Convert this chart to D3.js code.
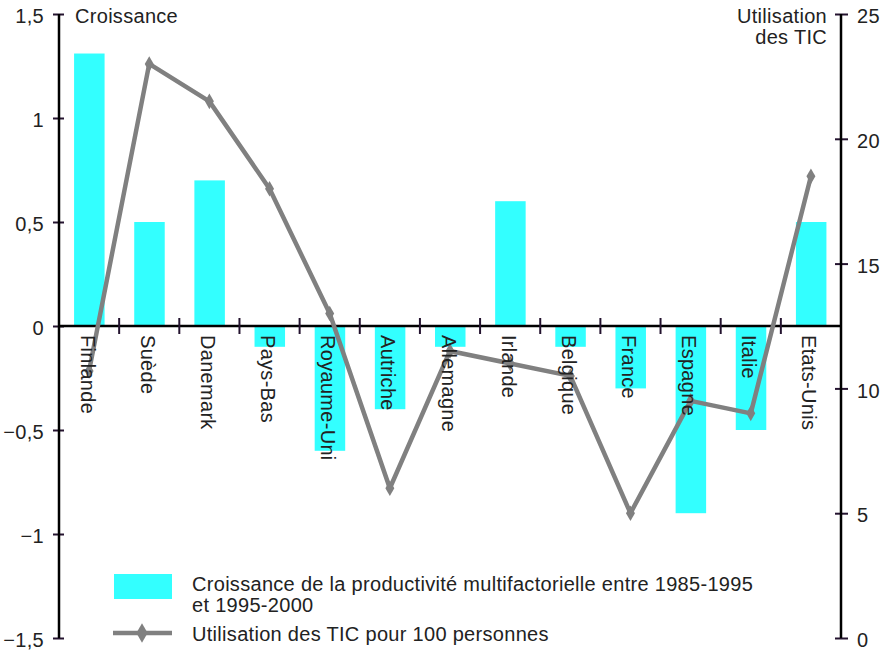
<!DOCTYPE html>
<html><head><meta charset="utf-8">
<script src="https://cdn.jsdelivr.net/npm/d3@7"></script>
<style>
html,body{margin:0;padding:0;background:#fff;}
svg{display:block;font-family:"Liberation Sans",Arial,Helvetica,sans-serif;}
svg text{letter-spacing:0.3px;}
</style></head>
<body>
<script>
const categories = ["Finlande","Suède","Danemark","Pays-Bas","Royaume-Uni","Autriche","Allemagne","Irlande","Belgique","France","Espagne","Italie","Etats-Unis"];
const croissance = [1.31,0.5,0.7,-0.1,-0.6,-0.4,-0.1,0.6,-0.1,-0.3,-0.9,-0.5,0.5];
const ticUsage = [10.7,23,21.5,18,13,6,11.5,11,10.5,5,9.5,9,18.5];
const leftTicks = [-1.5,-1,-0.5,0,0.5,1,1.5];
const rightTicks = [0,5,10,15,20,25];
const legendLabels = ["Croissance de la productivité multifactorielle entre 1985-1995","et 1995-2000","Utilisation des TIC pour 100 personnes"];

const W = 888, H = 652;
const mLeft = 59, mRight = 841, mTop = 14, mBottom = 638;
const textColor = "#222";
const tickColor = "#24132f";
const cyan = "#33ffff";
const gray = "#808080";

const svg = d3.select("body").append("svg").attr("width", W).attr("height", H);

const xb = d3.scaleBand().domain(categories).range([mLeft, mRight]);
const yL = d3.scaleLinear().domain([-1.5, 1.5]).range([mBottom, mTop]);
const yR = d3.scaleLinear().domain([0, 25]).range([mBottom, mTop]);
const cx = d => xb(d) + xb.bandwidth()/2;

const fmt = v => (v < 0 ? "\u2212" : "") + String(Math.abs(v)).replace(".", ",");

// bars
svg.append("g").selectAll("rect").data(categories).join("rect")
  .attr("x", d => cx(d) - 15)
  .attr("width", 30.5)
  .attr("y", (d,i) => yL(Math.max(0, croissance[i])))
  .attr("height", (d,i) => Math.abs(yL(croissance[i]) - yL(0)))
  .attr("fill", cyan);

// left axis
const gL = svg.append("g").attr("transform", `translate(${mLeft},0)`);
gL.call(d3.axisLeft(yL).tickValues(leftTicks).tickFormat(fmt).tickSize(0).tickPadding(15));
gL.select(".domain").remove();
gL.selectAll("text").attr("font-size", 20).attr("fill", textColor).attr("font-family", "Liberation Sans, Arial, sans-serif").attr("dy", "0.43em");
gL.selectAll(".tick").append("line").attr("x1", -6).attr("x2", 5).attr("stroke", tickColor).attr("stroke-width", 2);
svg.append("line").attr("x1", mLeft).attr("x2", mLeft).attr("y1", mTop).attr("y2", mBottom).attr("stroke", "#000").attr("stroke-width", 2.5);

// right axis
const gR = svg.append("g").attr("transform", `translate(${mRight},0)`);
gR.call(d3.axisRight(yR).tickValues(rightTicks).tickFormat(d3.format("d")).tickSize(0).tickPadding(16));
gR.select(".domain").remove();
gR.selectAll("text").attr("font-size", 20).attr("fill", textColor).attr("font-family", "Liberation Sans, Arial, sans-serif").attr("dy", "0.43em");
gR.selectAll(".tick").append("line").attr("x1", -6).attr("x2", 7).attr("stroke", tickColor).attr("stroke-width", 2);
svg.append("line").attr("x1", mRight).attr("x2", mRight).attr("y1", mTop).attr("y2", mBottom).attr("stroke", "#000").attr("stroke-width", 2.5);

// zero line and category ticks
svg.append("line").attr("x1", mLeft).attr("x2", mRight).attr("y1", yL(0)).attr("y2", yL(0)).attr("stroke", "#000").attr("stroke-width", 2.5);
svg.append("g").selectAll("line").data(categories.slice(1)).join("line")
  .attr("x1", d => xb(d)).attr("x2", d => xb(d))
  .attr("y1", yL(0) - 8).attr("y2", yL(0) + 8)
  .attr("stroke", tickColor).attr("stroke-width", 2);

// line series
const lineGen = d3.line().x((d,i) => cx(categories[i])).y(d => yR(d));
svg.append("path").datum(ticUsage).attr("d", lineGen)
  .attr("fill", "none").attr("stroke", gray).attr("stroke-width", 4.5).attr("stroke-linejoin", "round");
const diamond = d3.symbol().type(d3.symbolDiamond).size(70);
svg.append("g").selectAll("path").data(ticUsage).join("path")
  .attr("d", diamond)
  .attr("transform", (d,i) => `translate(${cx(categories[i])},${yR(d)})`)
  .attr("fill", gray);

// category labels (rotated)
svg.append("g").selectAll("text").data(categories).join("text")
  .attr("transform", d => `translate(${cx(d)},${yL(0) + 9}) rotate(90)`)
  .attr("y", 8.5)
  .attr("font-size", 20).attr("fill", textColor)
  .text(d => d);

// axis titles
svg.append("text").attr("x", 75).attr("y", 23).attr("font-size", 20).attr("fill", textColor).text("Croissance");
svg.append("text").attr("x", 827).attr("y", 23).attr("text-anchor", "end").attr("font-size", 20).attr("fill", textColor).text("Utilisation");
svg.append("text").attr("x", 827).attr("y", 44).attr("text-anchor", "end").attr("font-size", 20).attr("fill", textColor).text("des TIC");

// legend
svg.append("rect").attr("x", 114).attr("y", 574).attr("width", 58).attr("height", 25).attr("fill", cyan);
svg.append("text").attr("x", 192).attr("y", 591).attr("font-size", 20).attr("fill", textColor).text(legendLabels[0]);
svg.append("text").attr("x", 192).attr("y", 611.5).attr("font-size", 20).attr("fill", textColor).text(legendLabels[1]);
svg.append("line").attr("x1", 113).attr("x2", 172).attr("y1", 633).attr("y2", 633).attr("stroke", gray).attr("stroke-width", 4.5);
svg.append("path").attr("d", d3.symbol().type(d3.symbolDiamond).size(110)).attr("transform", "translate(142,633)").attr("fill", gray);
svg.append("text").attr("x", 192).attr("y", 641).attr("font-size", 20).attr("fill", textColor).text(legendLabels[2]);
</script>
</body></html>
